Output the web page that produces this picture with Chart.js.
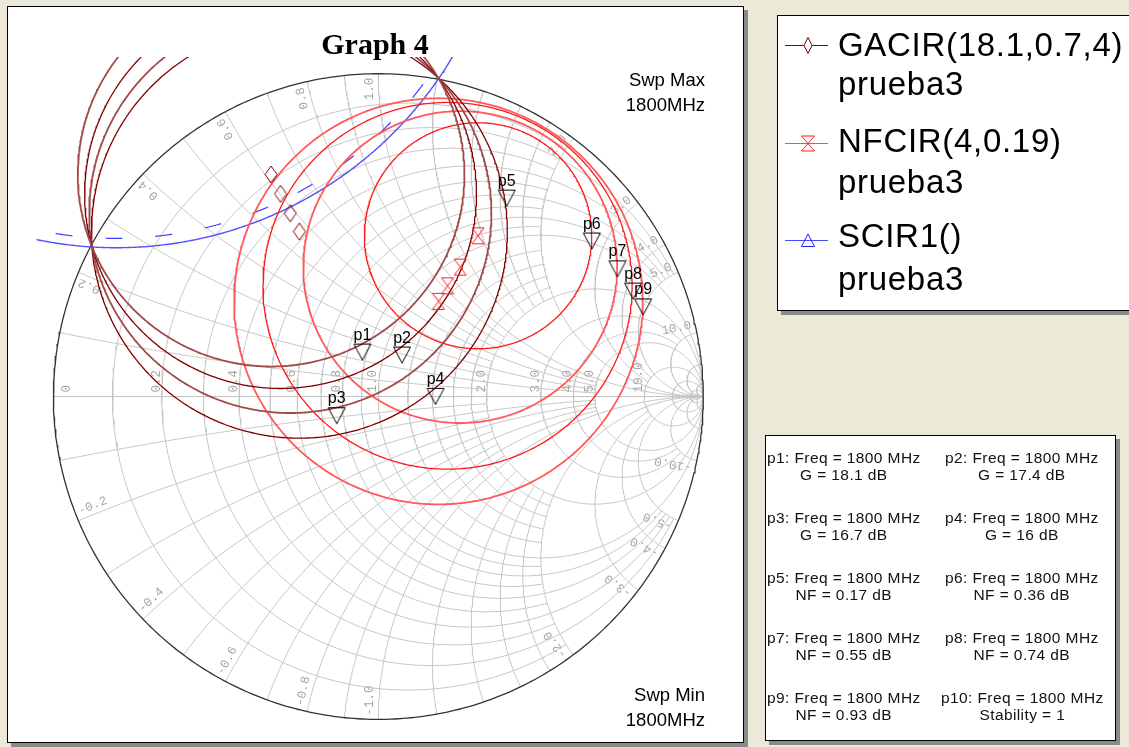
<!DOCTYPE html>
<html>
<head>
<meta charset="utf-8">
<script src="https://cdn.jsdelivr.net/npm/chart.js@4.4.0/dist/chart.umd.min.js"></script>
<style>
  body { margin: 0; width: 1129px; height: 747px; overflow: hidden; position: relative;
         background: #ece9d8; font-family: "Liberation Sans", Arial, sans-serif; }
  .caja { position: absolute; background: #fff; border: 1px solid #000; box-sizing: border-box;
          box-shadow: 4px 4px 0 #8a8a8a; }
  #marco { left: 7px; top: 6px; width: 737px; height: 737px; z-index: 0; }
  #leyenda { left: 777px; top: 15px; width: 380px; height: 296px; z-index: 0; }
  #info { left: 765px; top: 435px; width: 351px; height: 306px; z-index: 0; }
  #smith { position: absolute; left: 0; top: 0; z-index: 1; }
  .t { position: absolute; white-space: nowrap; line-height: 1; z-index: 2; }
  .ley { font-size: 33px; letter-spacing: 0.7px; left: 838px; color: #000; }
  .swp { font-size: 18.5px; right: 424px; text-align: right; }
  .celda { position: absolute; z-index: 2; font-size: 15.5px; letter-spacing: 0.4px; line-height: 17px;
           text-align: center; white-space: nowrap; color: #111; }
  #simbolos { position: absolute; left: 0; top: 0; z-index: 2; pointer-events: none; }
</style>
</head>
<body>
<div class="caja" id="marco"></div>
<div class="caja" id="leyenda"></div>
<div class="caja" id="info"></div>

<canvas id="smith" width="1129" height="747"></canvas>

<div class="t" style="left:275px;width:200px;text-align:center;top:27px;font:bold 30px 'Liberation Serif',serif;">Graph 4</div>
<div class="t swp" style="top:71px;">Swp Max</div>
<div class="t swp" style="top:96px;">1800MHz</div>
<div class="t swp" style="top:686px;">Swp Min</div>
<div class="t swp" style="top:711px;">1800MHz</div>

<div class="t ley" style="top:28px;">GACIR(18.1,0.7,4)</div>
<div class="t ley" style="top:67px;">prueba3</div>
<div class="t ley" style="top:124px;">NFCIR(4,0.19)</div>
<div class="t ley" style="top:165px;">prueba3</div>
<div class="t ley" style="top:219px;">SCIR1()</div>
<div class="t ley" style="top:262px;">prueba3</div>

<svg id="simbolos" width="1129" height="747">
  <line x1="785" y1="45.5" x2="828" y2="45.5" stroke="#800000" stroke-width="1"/>
  <polygon points="808,37.5 812,45.5 808,53.5 804,45.5" fill="#fff" stroke="#800000" stroke-width="1"/>
  <line x1="785" y1="143.5" x2="828" y2="143.5" stroke="#ff4a4a" stroke-width="1"/>
  <path d="M801.5,136 H814.5 L808,143.5 Z M801.5,151 H814.5 L808,143.5 Z" fill="#fff" stroke="#ff2020" stroke-width="1"/>
  <line x1="785" y1="240.5" x2="828" y2="240.5" stroke="#4a4aff" stroke-width="1"/>
  <polygon points="808,234 814.5,246.5 801.5,246.5" fill="none" stroke="#2020ff" stroke-width="1"/>
</svg>

<div class="celda" style="left:767px;top:449px;">p1: Freq = 1800 MHz<br>G = 18.1 dB</div>
<div class="celda" style="left:945px;top:449px;">p2: Freq = 1800 MHz<br>G = 17.4 dB</div>
<div class="celda" style="left:767px;top:509px;">p3: Freq = 1800 MHz<br>G = 16.7 dB</div>
<div class="celda" style="left:945px;top:509px;">p4: Freq = 1800 MHz<br>G = 16 dB</div>
<div class="celda" style="left:767px;top:569px;">p5: Freq = 1800 MHz<br>NF = 0.17 dB</div>
<div class="celda" style="left:945px;top:569px;">p6: Freq = 1800 MHz<br>NF = 0.36 dB</div>
<div class="celda" style="left:767px;top:629px;">p7: Freq = 1800 MHz<br>NF = 0.55 dB</div>
<div class="celda" style="left:945px;top:629px;">p8: Freq = 1800 MHz<br>NF = 0.74 dB</div>
<div class="celda" style="left:767px;top:689px;">p9: Freq = 1800 MHz<br>NF = 0.93 dB</div>
<div class="celda" style="left:941px;top:689px;">p10: Freq = 1800 MHz<br>Stability = 1</div>

<script>
// Circulos de ganancia disponible GACIR (centros y radios)
const gainCenterX = [-0.330, -0.301, -0.271, -0.243];
const gainCenterY = [0.688, 0.628, 0.568, 0.511];
const gainRadius = [0.595, 0.603, 0.619, 0.640];

// Circulos de ruido NFCIR
const nfCenterX = [0.307, 0.252, 0.213, 0.185];
const nfCenterY = [0.498, 0.401, 0.343, 0.295];
const nfRadius = [0.350, 0.483, 0.568, 0.629];

// Circulo de estabilidad SCIR1
const stabCenter = [-0.807, 1.663];
const stabRadius = 1.202;
const stabHatchRadius = 1.173;

// Marcadores
const markerNames = ["p1", "p2", "p3", "p4", "p5", "p6", "p7", "p8", "p9"];
const markerX = [-0.049, 0.073, -0.128, 0.176, 0.395, 0.657, 0.736, 0.784, 0.815];
const markerY = [0.164, 0.155, -0.033, 0.027, 0.641, 0.508, 0.422, 0.353, 0.304];

// Rejilla de la carta de Smith (r constante / x constante y hasta donde llegan)
const rGrid = [0.1, 0.2, 0.3, 0.4, 0.5, 0.6, 0.7, 0.8, 0.9, 1, 1.2, 1.4, 1.6, 1.8, 2, 3, 4, 5, 10, 20, 50];
const rGridMaxX = [2, 5, 2, 5, 2, 5, 2, 5, 2, Infinity, 2, 2, 2, 2, Infinity, 10, 10, Infinity, Infinity, Infinity, Infinity];
const xGrid = [0.1, 0.2, 0.3, 0.4, 0.5, 0.6, 0.7, 0.8, 0.9, 1, 1.2, 1.4, 1.6, 1.8, 2, 3, 4, 5, 10, 20, 50];
const xGridMaxR = [2, 5, 2, 5, 2, 5, 2, 5, 2, Infinity, 2, 2, 2, 2, Infinity, 10, 10, Infinity, Infinity, Infinity, Infinity];

// Etiquetas de la rejilla
const rTicks = [0, 0.2, 0.4, 0.6, 0.8, 1, 2, 3, 4, 5, 10];
const rTickLabels = ["0", "0.2", "0.4", "0.6", "0.8", "1.0", "2.0", "3.0", "4.0", "5.0", "10.0"];
const xTicks = [0.2, 0.4, 0.6, 0.8, 1, 2, 3, 4, 5, 10];
const xTickLabels = ["0.2", "0.4", "0.6", "0.8", "1.0", "2.0", "3.0", "4.0", "5.0", "10.0"];

// estilos
const gainColors = ["#a04a4a", "#800000", "#a04a4a", "#800000"];
const gainWidths = [1.8, 1.3, 1.8, 1.3];
const nfColors = ["#ff1a1a", "#ff5a5a", "#ff1a1a", "#ff5a5a"];
const nfWidths = [1.3, 1.8, 1.3, 1.8];
const clipLim = 1.052;

// ---------------------------------------------------------
function gammaOf(r, x) {
    const d = (r + 1) * (r + 1) + x * x;
    return { x: (r * r - 1 + x * x) / d, y: 2 * x / d };
}

function arcPoints(cx, cy, rad, a0, a1, n) {
    const pts = [];
    for (let i = 0; i <= n; i++) {
        const a = a0 + (a1 - a0) * i / n;
        pts.push({ x: cx + rad * Math.cos(a), y: cy + rad * Math.sin(a) });
    }
    return pts;
}

function rArc(r, xm) {
    const cx = r / (1 + r), rad = 1 / (1 + r);
    let a0 = 0, a1 = 2 * Math.PI;
    if (isFinite(xm)) {
        const g = gammaOf(r, xm);
        a0 = Math.atan2(g.y, g.x - cx);
        a1 = 2 * Math.PI - a0;
    }
    return arcPoints(cx, 0, rad, a0, a1, 220);
}

function xArc(x, rm) {
    const cx = 1, cy = 1 / x, rad = Math.abs(1 / x);
    const g0 = gammaOf(0, x);
    const g1 = isFinite(rm) ? gammaOf(rm, x) : { x: 1, y: 0 };
    const a0 = Math.atan2(g0.y - cy, g0.x - cx);
    let d = Math.atan2(g1.y - cy, g1.x - cx) - a0;
    while (d > Math.PI) d -= 2 * Math.PI;
    while (d < -Math.PI) d += 2 * Math.PI;
    return arcPoints(cx, cy, rad, a0, a0 + d, 140);
}

const gap = { x: null, y: null };
const gridPts = [];
rGrid.forEach((r, i) => { gridPts.push(...rArc(r, rGridMaxX[i]), gap); });
xGrid.forEach((xv, i) => {
    gridPts.push(...xArc(xv, xGridMaxR[i]), gap);
    gridPts.push(...xArc(-xv, xGridMaxR[i]), gap);
});

function makeImg(w, h, draw) {
    const c = document.createElement("canvas");
    c.width = w; c.height = h;
    draw(c.getContext("2d"));
    return c;
}
// triangulo del marcador: el punto queda en el borde superior
const triDown = makeImg(20, 36, g => {
    g.strokeStyle = "#000"; g.lineWidth = 1;
    g.beginPath(); g.moveTo(1.5, 18.5); g.lineTo(18.5, 18.5); g.lineTo(10, 34.5); g.closePath(); g.stroke();
});
const diamond = makeImg(14, 19, g => {
    g.strokeStyle = "#800000"; g.lineWidth = 1;
    g.beginPath(); g.moveTo(7, 1); g.lineTo(13, 9.5); g.lineTo(7, 18); g.lineTo(1, 9.5); g.closePath(); g.stroke();
});
const hourglass = makeImg(14, 19, g => {
    g.strokeStyle = "#ff2020"; g.lineWidth = 1;
    g.beginPath();
    g.moveTo(1, 1.5); g.lineTo(13, 1.5); g.lineTo(7, 9.5); g.closePath();
    g.moveTo(1, 17.5); g.lineTo(13, 17.5); g.lineTo(7, 9.5); g.closePath();
    g.stroke();
});

const lineSet = (pts, color, width, extra) => Object.assign({
    data: pts, showLine: true, borderColor: color, borderWidth: width,
    pointRadius: 0, fill: false, spanGaps: false
}, extra || {});

const datasets = [];
datasets.push({
    data: markerX.map((x, i) => ({ x: x, y: markerY[i] })),
    pointStyle: triDown, pointRadius: 6, showLine: false
});
datasets.push({
    data: gainCenterX.map((x, i) => ({ x: x, y: gainCenterY[i] })),
    pointStyle: diamond, pointRadius: 6, showLine: false
});
datasets.push({
    data: nfCenterX.map((x, i) => ({ x: x, y: nfCenterY[i] })),
    pointStyle: hourglass, pointRadius: 6, showLine: false
});
gainCenterX.forEach((cx, i) => {
    datasets.push(lineSet(arcPoints(cx, gainCenterY[i], gainRadius[i], 0, 2 * Math.PI, 600), gainColors[i], gainWidths[i]));
});
nfCenterX.forEach((cx, i) => {
    datasets.push(lineSet(arcPoints(cx, nfCenterY[i], nfRadius[i], 0, 2 * Math.PI, 500), nfColors[i], nfWidths[i]));
});
datasets.push(lineSet(arcPoints(stabCenter[0], stabCenter[1], stabRadius, 0, 2 * Math.PI, 1400), "#5050ff", 1.4));
datasets.push(lineSet(arcPoints(stabCenter[0], stabCenter[1], stabHatchRadius, -Math.PI / 2 - 1.2, -Math.PI / 2 + 1.2, 900),
    "#3c3cff", 1.2, { borderDash: [17, 33] }));
datasets.push(lineSet(arcPoints(0, 0, 1, 0, 2 * Math.PI, 500), "#333", 1.3));
datasets.push(lineSet([{ x: -1, y: 0 }, { x: 1, y: 0 }], "#c4c4c4", 1));
datasets.push(lineSet(gridPts, "#c6c6c6", 1));

// etiquetas de la rejilla, recorte y nombres de marcadores
const smithDecor = {
    id: "smithDecor",
    beforeDatasetsDraw(chart) {
        const ctx = chart.ctx, sx = chart.scales.x, sy = chart.scales.y;
        const c0x = sx.getPixelForValue(0), c0y = sy.getPixelForValue(0);
        const R = sx.getPixelForValue(1) - c0x;
        ctx.save();
        ctx.fillStyle = "#a6a6a6";
        ctx.font = '12.5px "Liberation Mono", "DejaVu Sans Mono", monospace';
        rTicks.forEach((r, i) => {
            const px = sx.getPixelForValue((r - 1) / (r + 1));
            ctx.save();
            if (r === 0) {
                ctx.translate(px + 7, c0y - 4);
                ctx.rotate(-Math.PI / 2);
                ctx.textBaseline = "top";
            } else {
                ctx.translate(px - 2, c0y - 4);
                ctx.rotate(-Math.PI / 2);
                ctx.textBaseline = "alphabetic";
            }
            ctx.textAlign = "left";
            ctx.fillText(rTickLabels[i], 0, 0);
            ctx.restore();
        });
        xTicks.forEach((xv, i) => {
            [1, -1].forEach(s => {
                const g = gammaOf(0, s * xv);
                const ex = sx.getPixelForValue(g.x), ey = sy.getPixelForValue(g.y);
                const ux = (ex - c0x) / R, uy = (ey - c0y) / R;
                const ang = Math.atan2(uy, ux);
                ctx.save();
                ctx.translate(ex - ux * 4, ey - uy * 4);
                if (s > 0) { ctx.rotate(ang); ctx.textAlign = "right"; }
                else { ctx.rotate(ang + Math.PI); ctx.textAlign = "left"; }
                ctx.textBaseline = "alphabetic";
                ctx.fillText((s < 0 ? "-" : "") + xTickLabels[i], 0, -5);
                ctx.restore();
            });
        });
        // flecha del eje real
        const ax = sx.getPixelForValue(1);
        ctx.strokeStyle = "#b8b8b8"; ctx.lineWidth = 1;
        ctx.beginPath();
        ctx.moveTo(ax - 7, c0y - 3); ctx.lineTo(ax, c0y); ctx.lineTo(ax - 7, c0y + 3);
        ctx.stroke();
        ctx.restore();

        ctx.save();
        const l = sx.getPixelForValue(-clipLim), r = sx.getPixelForValue(clipLim);
        const t = sy.getPixelForValue(clipLim), b = sy.getPixelForValue(-clipLim);
        ctx.beginPath();
        ctx.rect(l, t, r - l, b - t);
        ctx.clip();
    },
    afterDatasetsDraw(chart) {
        const ctx = chart.ctx;
        ctx.restore();
        const meta = chart.getDatasetMeta(0);
        ctx.save();
        ctx.fillStyle = "#000";
        ctx.font = '16px "Liberation Sans", Arial, sans-serif';
        ctx.textAlign = "center";
        ctx.textBaseline = "alphabetic";
        meta.data.forEach((pt, i) => { ctx.fillText(markerNames[i], pt.x, pt.y - 4); });
        ctx.restore();
    }
};

const cnv = document.getElementById("smith");
const cx0 = 376, cy0 = 397, Rpx = 329;   // centro y radio de la carta en pixeles
new Chart(cnv.getContext("2d"), {
    type: "scatter",
    data: { datasets: datasets },
    options: {
        responsive: false,
        animation: false,
        events: [],
        layout: { padding: 0 },
        scales: {
            x: { type: "linear", min: -cx0 / Rpx, max: (cnv.width - cx0) / Rpx, display: false },
            y: { type: "linear", min: (cy0 - cnv.height) / Rpx, max: cy0 / Rpx, display: false }
        },
        plugins: { legend: { display: false }, tooltip: { enabled: false } }
    },
    plugins: [smithDecor]
});
</script>
</body>
</html>
